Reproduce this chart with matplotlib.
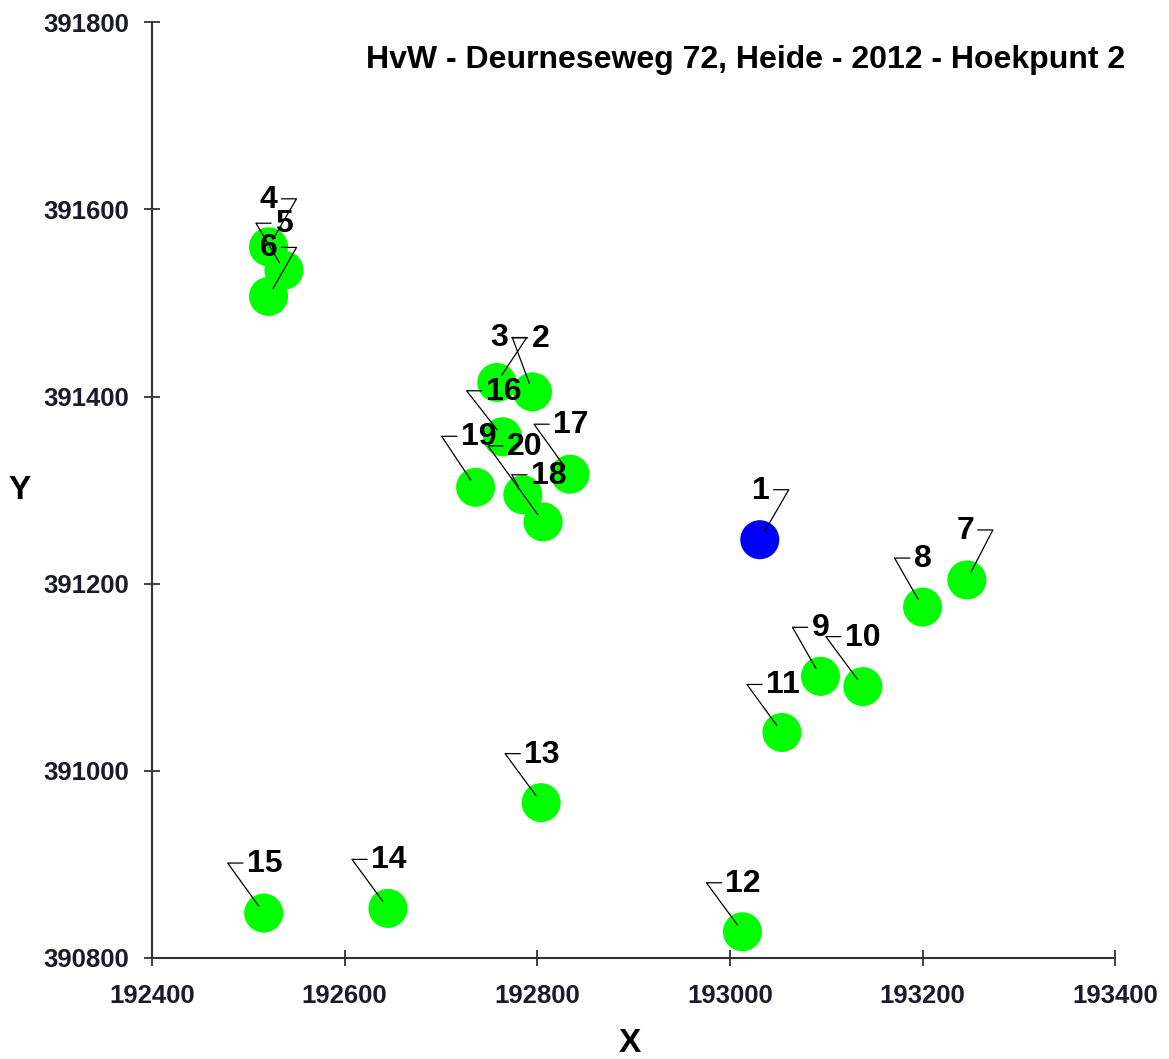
import matplotlib
matplotlib.use("Agg")
import matplotlib.pyplot as plt
import matplotlib.transforms as mtransforms
import numpy as np

# Measured points (RD coordinates)
point_ids = list(range(1, 21))
x_coords = [193031, 192795, 192758, 192521, 192537, 192521, 193246, 193200, 193094, 193138,
            193054, 193013, 192804, 192645, 192516, 192764, 192834, 192785, 192736, 192806]
y_coords = [391247, 391405, 391415, 391560, 391535, 391507, 391204, 391175, 391101, 391090,
            391041, 390828, 390966, 390853, 390848, 391357, 391317, 391295, 391303, 391266]
point_colors = ["#0000ff"] + ["#00ff00"] * 19

x_ticks = [192400, 192600, 192800, 193000, 193200, 193400]
y_ticks = [390800, 391000, 391200, 391400, 391600, 391800]

TITLE = "HvW - Deurneseweg 72, Heide - 2012 - Hoekpunt 2"

# Leader line corner, in screen pixels relative to the point (y down).
# dx > 0: label sits left of the corner, dx < 0: label sits right of it
LABEL_OFFSETS = {
    1: (29, -50), 2: (-20, -54), 3: (30, -45), 4: (28, -48), 5: (-28, -47),
    6: (28, -49), 7: (26, -50), 8: (-28, -49), 9: (-28, -49), 10: (-37, -50),
    11: (-35, -48), 12: (-36, -49), 13: (-36, -49), 14: (-36, -49), 15: (-36, -50),
    16: (-36, -46), 17: (-36, -50), 18: (-11, -20), 19: (-34, -51), 20: (-55, -76),
}

FONT = "Liberation Sans"


def add_label(ax, fig, pid: int, x: float, y: float) -> None:
    dx, dy = LABEL_OFFSETS[pid]
    s = fig.dpi / 100.0
    # pixel offsets around the data point
    trans = mtransforms.Affine2D().scale(s, -s) + mtransforms.ScaledTranslation(x, y, ax.transData)

    # start the leader a little away from the centre of the dot
    length = np.hypot(dx, dy)
    sx, sy = dx / length * 9, dy / length * 9
    side = -1 if dx > 0 else 1
    hx = dx + side * 15

    ax.plot([sx, dx, hx], [sy, dy, dy], color="black", lw=0.9,
            transform=trans, clip_on=False, zorder=3)
    ax.text(dx + side * 19, dy + 1, str(pid), transform=trans,
            ha="right" if dx > 0 else "left", va="center",
            fontsize=23, fontweight="bold", family=FONT, zorder=4)


fig = plt.figure(figsize=(11.69, 10.59), dpi=100)
ax = fig.add_axes([0.130, 0.0954, 0.824, 0.8836])

ax.scatter(x_coords, y_coords, s=790, c=point_colors, edgecolors="none", zorder=2)

for pid, x, y in zip(point_ids, x_coords, y_coords):
    add_label(ax, fig, pid, x, y)

ax.set_xlim(192400, 193400)
ax.set_ylim(390800, 391800)
ax.set_xticks(x_ticks)
ax.set_yticks(y_ticks)
ax.ticklabel_format(useOffset=False, style="plain")

for side in ["top", "right"]:
    ax.spines[side].set_visible(False)
for side in ["left", "bottom"]:
    ax.spines[side].set_linewidth(1.5)
    ax.spines[side].set_color("#333333")

ax.tick_params(direction="inout", length=11, width=1.3, color="#333333")
ax.tick_params(axis="x", pad=13)
ax.tick_params(axis="y", pad=11)
for lbl in ax.get_xticklabels() + ax.get_yticklabels():
    lbl.set_fontsize(18.5)
    lbl.set_fontweight("bold")
    lbl.set_family(FONT)
    lbl.set_color("#1a1a2a")

ax.set_xlabel("X", fontsize=24, fontweight="bold", family=FONT)
ax.set_ylabel("Y", fontsize=24, fontweight="bold", family=FONT, rotation=0, va="center")
ax.xaxis.set_label_coords(0.496, -0.075)
ax.yaxis.set_label_coords(-0.137, 0.5)

fig.text(1125 / 1169, 1 - 60 / 1059, TITLE, ha="right", va="center",
         fontsize=23, fontweight="bold", family=FONT)

plt.savefig("out.png", dpi=100)
